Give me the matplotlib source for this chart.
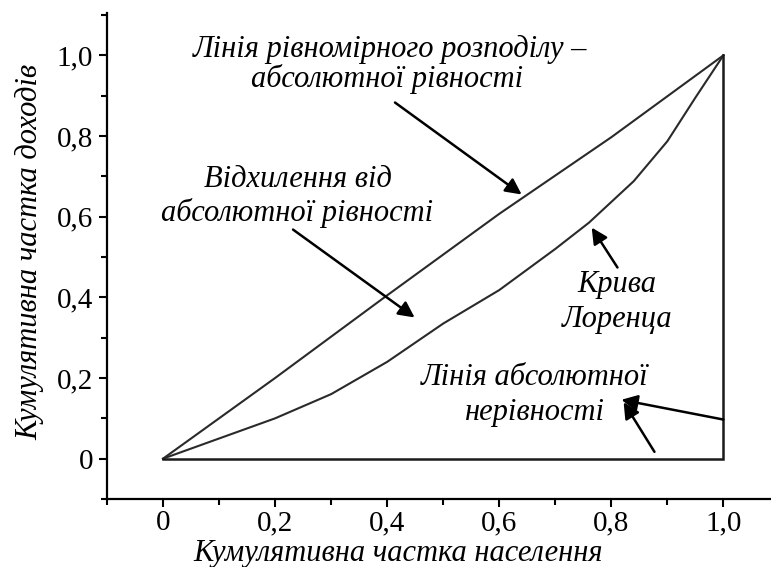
import numpy as np
import matplotlib
matplotlib.use("Agg")
import matplotlib.pyplot as plt
from matplotlib.ticker import MultipleLocator, FuncFormatter

plt.rcParams['font.family'] = ['Liberation Serif', 'DejaVu Serif']

# Data
population = [0.0, 0.1, 0.2, 0.3, 0.4, 0.5, 0.6, 0.7, 0.76, 0.84, 0.9, 0.95, 1.0]
lorenz_income = [0.0, 0.05, 0.10, 0.16, 0.24, 0.335, 0.418, 0.52, 0.585, 0.688, 0.787, 0.895, 1.0]
equality_x = [0.0, 0.2, 0.4, 0.6, 0.8, 1.0]
equality_y = [0.0, 0.2, 0.405, 0.607, 0.797, 1.0]
inequality_x = [0.0, 1.0, 1.0]
inequality_y = [0.0, 0.0, 1.0]

tick_values = [0.0, 0.2, 0.4, 0.6, 0.8, 1.0]

fig = plt.figure(figsize=(7.71, 5.67), dpi=100)
ax = fig.add_axes([107/771, 68/567, 664/771, 486/567])

ax.plot(equality_x, equality_y, color="#2a2a2a", lw=1.5)
ax.plot(population, lorenz_income, color="#2a2a2a", lw=1.5)
ax.plot(inequality_x, inequality_y, color="#1a1a1a", lw=1.8, solid_joinstyle="miter")

ax.set_xlim(-0.1, 1.085)
ax.set_ylim(-0.1, 1.105)

for s in ["top", "right"]:
    ax.spines[s].set_visible(False)
for s in ["left", "bottom"]:
    ax.spines[s].set_linewidth(1.6)

fmt = FuncFormatter(lambda v, p: "0" if abs(v) < 1e-9 else f"{v:.1f}".replace(".", ","))
ax.set_xticks(tick_values)
ax.set_yticks(tick_values)
ax.xaxis.set_major_formatter(fmt)
ax.yaxis.set_major_formatter(fmt)
ax.xaxis.set_minor_locator(MultipleLocator(0.1))
ax.yaxis.set_minor_locator(MultipleLocator(0.1))
ax.tick_params(which="major", direction="out", length=6, width=1.5, labelsize=21, pad=4)
ax.tick_params(axis="x", which="major", pad=2)
ax.tick_params(which="minor", direction="out", length=4, width=1.5)

ax.set_xlabel("Кумулятивна частка населення", fontsize=22, style="italic")
ax.xaxis.set_label_coords(0.438, -0.083)
ax.set_ylabel("Кумулятивна частка доходів", fontsize=22, style="italic")
ax.yaxis.set_label_coords(-0.095, 0.508)

tfont = dict(fontsize=22, style="italic", ha="center", va="baseline")
ax.text(0.405, (459-58)/403, "Лінія рівномірного розподілу –", **tfont)
ax.text(0.399, (459-88)/403, "абсолютної рівності", **tfont)
ax.text(0.24, (459-188)/403, "Відхилення від", **tfont)
ax.text(0.24, (459-222)/403, "абсолютної рівності", **tfont)
ax.text(0.81, (459-292)/403, "Крива", **tfont)
ax.text(0.81, (459-327)/403, "Лоренца", **tfont)
ax.text(0.663, (459-385)/403, "Лінія абсолютної", **tfont)
ax.text(0.663, (459-420)/403, "нерівності", **tfont)

arrow = dict(arrowstyle="-|>", color="black", lw=1.8, mutation_scale=24, shrinkA=0, shrinkB=0)
ax.annotate("", xy=(0.640, 0.655), xytext=(0.414, 0.883), arrowprops=arrow)
ax.annotate("", xy=(0.449, 0.350), xytext=(0.232, 0.568), arrowprops=arrow)
ax.annotate("", xy=(0.765, 0.573), xytext=(0.811, 0.474), arrowprops=arrow)
ax.annotate("", xy=(0.818, 0.146), xytext=(1.0, 0.097), arrowprops=arrow)
ax.annotate("", xy=(0.822, 0.140), xytext=(0.877, 0.017), arrowprops=arrow)

fig.savefig("out.png", dpi=100)
